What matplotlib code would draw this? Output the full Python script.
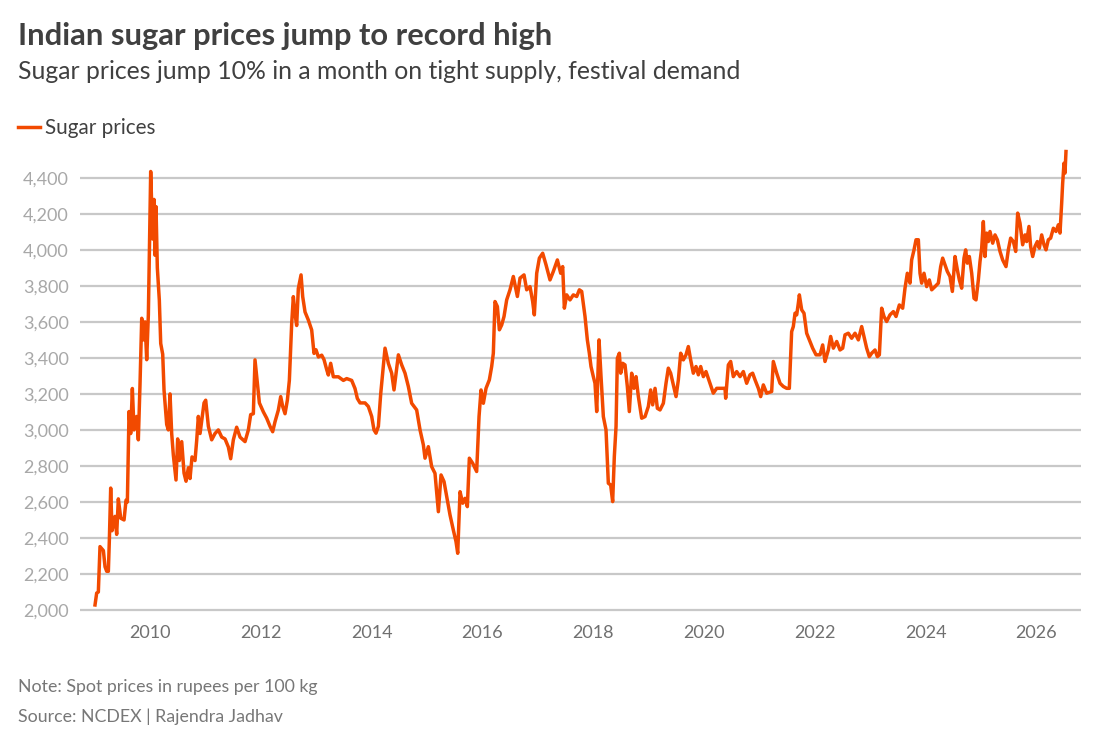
import matplotlib
matplotlib.use("Agg")
import matplotlib.pyplot as plt
from matplotlib.lines import Line2D

# ---- data (decimal year, rupees per 100 kg) ----
years = [
    2009.007, 2009.037, 2009.067, 2009.097, 2009.158, 2009.188, 2009.218, 2009.248,
    2009.266, 2009.290, 2009.314, 2009.368, 2009.398, 2009.428, 2009.471, 2009.531,
    2009.567, 2009.591, 2009.621, 2009.651, 2009.681, 2009.711, 2009.759, 2009.789,
    2009.819, 2009.850, 2009.880, 2009.910, 2009.940, 2009.970, 2010.012, 2010.048,
    2010.072, 2010.090, 2010.108, 2010.132, 2010.168, 2010.193, 2010.229, 2010.253,
    2010.301, 2010.331, 2010.361, 2010.391, 2010.421, 2010.469, 2010.499, 2010.529,
    2010.572, 2010.614, 2010.650, 2010.692, 2010.722, 2010.758, 2010.812, 2010.842,
    2010.872, 2010.903, 2010.933, 2010.975, 2011.005, 2011.053, 2011.113, 2011.173,
    2011.233, 2011.294, 2011.354, 2011.414, 2011.456, 2011.504, 2011.564, 2011.625,
    2011.715, 2011.775, 2011.817, 2011.865, 2011.895, 2011.937, 2011.974, 2012.046,
    2012.106, 2012.166, 2012.214, 2012.256, 2012.316, 2012.359, 2012.395, 2012.437,
    2012.479, 2012.515, 2012.557, 2012.587, 2012.617, 2012.647, 2012.677, 2012.726,
    2012.756, 2012.798, 2012.858, 2012.918, 2012.960, 2012.996, 2013.039, 2013.099,
    2013.141, 2013.189, 2013.219, 2013.261, 2013.309, 2013.400, 2013.490, 2013.550,
    2013.640, 2013.700, 2013.742, 2013.791, 2013.881, 2013.941, 2014.001, 2014.043,
    2014.079, 2014.122, 2014.164, 2014.200, 2014.242, 2014.302, 2014.362, 2014.404,
    2014.483, 2014.543, 2014.603, 2014.663, 2014.723, 2014.813, 2014.874, 2014.934,
    2014.964, 2015.024, 2015.084, 2015.144, 2015.205, 2015.253, 2015.307, 2015.355,
    2015.415, 2015.475, 2015.523, 2015.554, 2015.596, 2015.644, 2015.686, 2015.728,
    2015.764, 2015.824, 2015.896, 2015.939, 2015.975, 2016.017, 2016.065, 2016.125,
    2016.167, 2016.197, 2016.227, 2016.270, 2016.306, 2016.348, 2016.390, 2016.438,
    2016.498, 2016.558, 2016.631, 2016.679, 2016.751, 2016.799, 2016.859, 2016.907,
    2016.937, 2016.980, 2017.028, 2017.088, 2017.148, 2017.220, 2017.280, 2017.353,
    2017.413, 2017.449, 2017.479, 2017.521, 2017.581, 2017.641, 2017.702, 2017.750,
    2017.792, 2017.852, 2017.894, 2017.930, 2017.960, 2018.002, 2018.032, 2018.063,
    2018.105, 2018.141, 2018.183, 2018.231, 2018.273, 2018.315, 2018.351, 2018.381,
    2018.412, 2018.436, 2018.472, 2018.496, 2018.532, 2018.574, 2018.616, 2018.652,
    2018.694, 2018.736, 2018.773, 2018.815, 2018.875, 2018.935, 2018.995, 2019.037,
    2019.073, 2019.116, 2019.158, 2019.206, 2019.266, 2019.314, 2019.356, 2019.398,
    2019.446, 2019.495, 2019.537, 2019.579, 2019.627, 2019.675, 2019.717, 2019.759,
    2019.807, 2019.856, 2019.898, 2019.940, 2019.988, 2020.036, 2020.108, 2020.168,
    2020.229, 2020.379, 2020.391, 2020.439, 2020.481, 2020.529, 2020.590, 2020.650,
    2020.710, 2020.770, 2020.830, 2020.878, 2020.921, 2020.981, 2021.023, 2021.071,
    2021.131, 2021.221, 2021.251, 2021.312, 2021.372, 2021.432, 2021.492, 2021.540,
    2021.582, 2021.612, 2021.643, 2021.673, 2021.703, 2021.721, 2021.763, 2021.805,
    2021.853, 2021.901, 2021.961, 2022.022, 2022.094, 2022.142, 2022.184, 2022.244,
    2022.286, 2022.335, 2022.395, 2022.455, 2022.503, 2022.545, 2022.605, 2022.665,
    2022.726, 2022.786, 2022.846, 2022.888, 2022.936, 2022.984, 2023.027, 2023.087,
    2023.129, 2023.165, 2023.207, 2023.249, 2023.297, 2023.357, 2023.418, 2023.466,
    2023.526, 2023.586, 2023.628, 2023.670, 2023.718, 2023.748, 2023.791, 2023.827,
    2023.869, 2023.899, 2023.929, 2023.971, 2024.019, 2024.067, 2024.110, 2024.170,
    2024.230, 2024.272, 2024.308, 2024.350, 2024.392, 2024.440, 2024.483, 2024.531,
    2024.573, 2024.609, 2024.651, 2024.693, 2024.723, 2024.753, 2024.789, 2024.832,
    2024.874, 2024.910, 2024.952, 2024.982, 2025.012, 2025.042, 2025.072, 2025.102,
    2025.132, 2025.162, 2025.211, 2025.253, 2025.295, 2025.343, 2025.391, 2025.451,
    2025.493, 2025.535, 2025.584, 2025.626, 2025.662, 2025.704, 2025.752, 2025.794,
    2025.824, 2025.866, 2025.896, 2025.933, 2025.975, 2026.017, 2026.053, 2026.095,
    2026.137, 2026.173, 2026.215, 2026.257, 2026.306, 2026.354, 2026.396, 2026.426,
    2026.456, 2026.474, 2026.498, 2026.516, 2026.534,
]
prices = [
    2028, 2094, 2100, 2352, 2330, 2240, 2215, 2215,
    2390, 2677, 2440, 2520, 2420, 2617, 2510, 2500,
    2610, 2600, 3102, 2980, 3230, 3000, 3075, 2945,
    3250, 3620, 3500, 3600, 3390, 3640, 4435, 4060,
    4280, 3970, 4240, 3900, 3720, 3480, 3420, 3220,
    3030, 3000, 3200, 2980, 2860, 2722, 2950, 2830,
    2935, 2760, 2715, 2790, 2730, 2850, 2830, 2940,
    3075, 2980, 3050, 3150, 3165, 3020, 2945, 2980,
    3000, 2960, 2950, 2905, 2840, 2945, 3015, 2960,
    2935, 3000, 3085, 3090, 3389, 3260, 3150, 3100,
    3065, 3020, 2990, 3045, 3110, 3185, 3130, 3090,
    3165, 3275, 3590, 3740, 3645, 3580, 3785, 3861,
    3740, 3655, 3610, 3555, 3425, 3445, 3405, 3415,
    3390, 3335, 3305, 3370, 3295, 3295, 3275, 3285,
    3275, 3230, 3175, 3150, 3150, 3130, 3075, 3000,
    2982, 3020, 3200, 3315, 3454, 3370, 3315, 3222,
    3417, 3361, 3315, 3241, 3148, 3111, 3000, 2917,
    2843, 2907, 2796, 2759, 2546, 2750, 2713, 2630,
    2528, 2444, 2380, 2315, 2657, 2593, 2620, 2574,
    2843, 2815, 2769, 3074, 3222, 3148, 3231, 3278,
    3352, 3426, 3713, 3685, 3556, 3583, 3630, 3722,
    3778, 3852, 3741, 3843, 3861, 3778, 3796, 3713,
    3639, 3870, 3954, 3981, 3917, 3833, 3880, 3944,
    3870, 3907, 3676, 3750, 3722, 3750, 3741, 3778,
    3769, 3630, 3500, 3426, 3352, 3296, 3259, 3102,
    3500, 3296, 3074, 3000, 2704, 2694, 2602, 2852,
    3019, 3398, 3426, 3315, 3370, 3361, 3241, 3102,
    3315, 3231, 3296, 3185, 3065, 3074, 3130, 3222,
    3139, 3231, 3120, 3111, 3148, 3259, 3343, 3315,
    3250, 3185, 3278, 3426, 3389, 3417, 3463, 3389,
    3315, 3352, 3306, 3352, 3296, 3324, 3259, 3204,
    3231, 3231, 3176, 3361, 3380, 3296, 3324, 3296,
    3324, 3259, 3306, 3315, 3278, 3231, 3185, 3250,
    3204, 3213, 3380, 3315, 3259, 3241, 3231, 3231,
    3546, 3574, 3648, 3639, 3704, 3750, 3667, 3648,
    3537, 3500, 3454, 3417, 3417, 3472, 3380, 3444,
    3519, 3454, 3491, 3444, 3454, 3528, 3537, 3509,
    3537, 3500, 3574, 3519, 3454, 3407, 3426, 3444,
    3407, 3417, 3676, 3630, 3602, 3639, 3657, 3630,
    3694, 3676, 3787, 3870, 3815, 3944, 4000, 4056,
    4056, 3870, 3815, 3870, 3796, 3833, 3778, 3796,
    3815, 3907, 3954, 3917, 3880, 3852, 3769, 3963,
    3889, 3833, 3787, 3954, 4000, 3926, 3963, 3870,
    3731, 3722, 3833, 3935, 4009, 4157, 3963, 4093,
    4046, 4102, 4037, 4083, 4056, 3991, 3944, 3907,
    4000, 4065, 4046, 3991, 4204, 4148, 4028, 4083,
    4046, 4130, 4019, 3963, 4019, 4046, 4009, 4083,
    4028, 4000, 4056, 4065, 4120, 4102, 4139, 4093,
    4259, 4370, 4481, 4426, 4546,
]

series_name = "Sugar prices"
y_ticks = [2000, 2200, 2400, 2600, 2800, 3000, 3200, 3400, 3600, 3800, 4000, 4200, 4400]
x_ticks = [2010, 2012, 2014, 2016, 2018, 2020, 2022, 2024, 2026]

title = "Indian sugar prices jump to record high"
subtitle = "Sugar prices jump 10% in a month on tight supply, festival demand"
note = "Note: Spot prices in rupees per 100 kg"
source = "Source: NCDEX | Rajendra Jadhav"

LINE = "#f24a00"
plt.rcParams['font.family'] = ['Lato', 'DejaVu Sans']

W, H = 1112, 747
fig = plt.figure(figsize=(W / 100, H / 100), dpi=100)
fig.patch.set_facecolor("white")

# axes in pixel geometry
ax_l, ax_r, ax_t, ax_b = 80, 1081, 149, 612
ax = fig.add_axes([ax_l / W, (H - ax_b) / H, (ax_r - ax_l) / W, (ax_b - ax_t) / H])

ax.plot(years, prices, color=LINE, lw=2.5, solid_joinstyle="round", zorder=3)

ax.set_xlim(2008.736, 2026.805)
ax.set_ylim(1988.9, 4560)
ax.set_yticks(y_ticks)
ax.set_yticklabels([f"{v:,}" for v in y_ticks])
ax.set_xticks(x_ticks)
ax.set_xticklabels([str(v) for v in x_ticks])
ax.grid(axis="y", color="#c8c8c8", lw=1.6, zorder=1)
ax.grid(axis="x", visible=False)
for s in ax.spines.values():
    s.set_visible(False)
ax.tick_params(axis="y", length=0, pad=8, labelsize=13, labelcolor="#a8a8a8")
ax.tick_params(axis="x", length=0, pad=9, labelsize=13, labelcolor="#707070")

# titles
fig.text(18 / W, 1 - 45 / H, title, fontsize=22.2, fontweight="bold", color="#404040",
         ha="left", va="baseline")
fig.text(18 / W, 1 - 79 / H, subtitle, fontsize=17.8, color="#404040",
         ha="left", va="baseline")

# legend
fig.add_artist(Line2D([18 / W, 40 / W], [1 - 127 / H, 1 - 127 / H], color=LINE, lw=2.5))
fig.text(45 / W, 1 - 134 / H, series_name, fontsize=14.9, color="#404040",
         ha="left", va="baseline")

# footer
fig.text(18 / W, 1 - 692 / H, note, fontsize=12.8, color="#777777", ha="left", va="baseline")
fig.text(18 / W, 1 - 722 / H, source, fontsize=12.8, color="#777777", ha="left", va="baseline")

fig.savefig("out.png", dpi=100, facecolor="white")
